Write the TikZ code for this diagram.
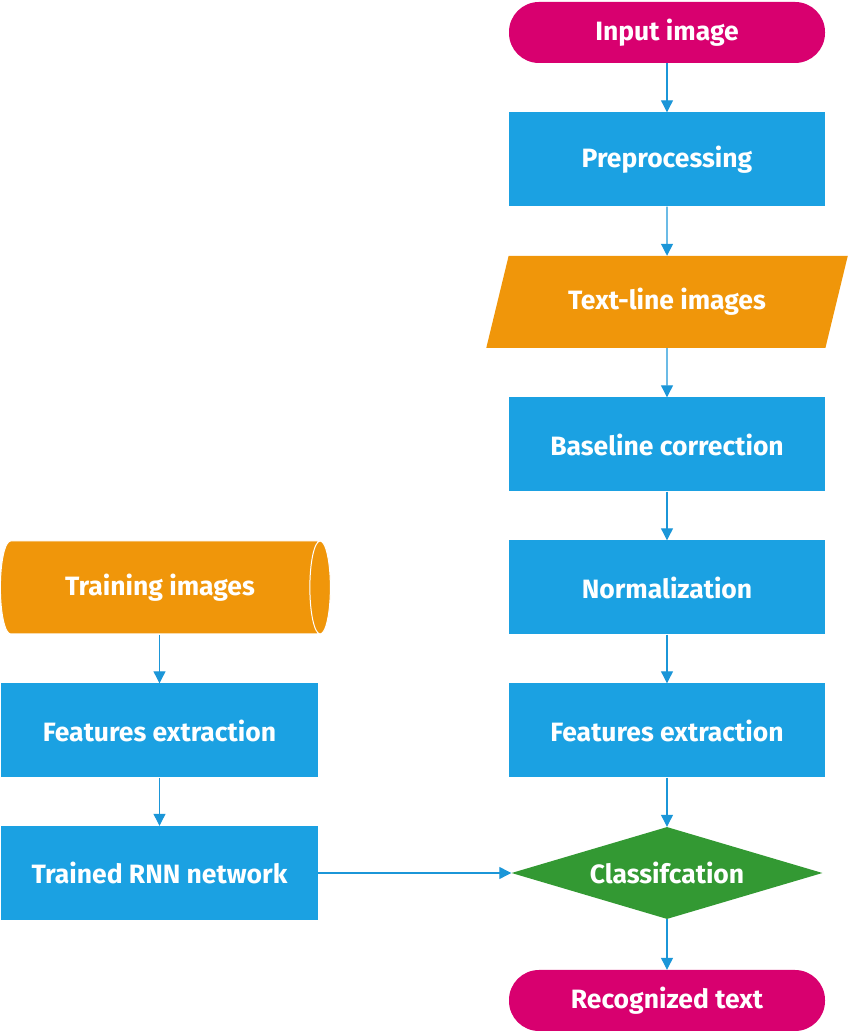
\documentclass[tikz,border=0pt]{standalone}
\usepackage{fontspec}
\setmainfont{Fira Sans}
\usetikzlibrary{shapes.geometric,arrows.meta}
\definecolor{fcpink}{HTML}{D8006F}
\definecolor{fcblue}{HTML}{1BA1E2}
\definecolor{fcorange}{HTML}{F0960A}
\definecolor{fcgreen}{HTML}{339933}
\definecolor{fcline}{HTML}{1B96D8}
\tikzset{
  lbl/.style={text=white,font=\bfseries\fontsize{26.5}{30}\selectfont,inner sep=0pt},
  proc/.style={lbl,rectangle,fill=fcblue,minimum width=316pt,minimum height=94pt},
  term/.style={lbl,rectangle,rounded corners=30pt,fill=fcpink,minimum width=316pt,minimum height=61pt},
  data/.style={lbl,trapezium,trapezium left angle=63,trapezium right angle=117,
    trapezium stretches=true,fill=fcorange,minimum width=362pt,minimum height=92pt},
  store/.style={lbl,cylinder,shape aspect=0.75,draw=white,line width=1pt,fill=fcorange,
    minimum width=93pt,minimum height=330pt},
  decide/.style={lbl,diamond,aspect=3.4,fill=fcgreen,minimum width=311pt,minimum height=92pt},
  flow/.style={fcline,line width=1.2pt,-{Triangle[width=12pt,length=12pt]}}
}
\begin{document}
\begin{tikzpicture}[x=10pt,y=10pt]
  \useasboundingbox (0,0) rectangle (85,103.3);
  % right column
  \node (in) at (66.7,100.05) [term] {Input image};
  \node (pre) at (66.7,87.35) [proc] {Preprocessing};
  \node (tl) at (66.7,73.1) [data] {Text-line images};
  \node (base) at (66.7,58.85) [proc] {Baseline correction};
  \node (norm) at (66.7,44.55) [proc] {Normalization};
  \node (feat) at (66.7,30.25) [proc] {Features extraction};
  \node (cls) at (66.7,16.0) [decide] {Classifcation};
  \node (out) at (66.7,3.25) [term] {Recognized text};
  % left column
  \node (train) at (16.0,44.55) [store] {Training images};
  \node (featl) at (15.95,30.25) [proc] {Features extraction};
  \node (rnn) at (15.95,16.0) [proc] {Trained RNN network};
  % arrows
  \draw[flow] (in) -- (pre);
  \draw[flow] (pre) -- (tl);
  \draw[flow] (tl) -- (base);
  \draw[flow] (base) -- (norm);
  \draw[flow] (norm) -- (feat);
  \draw[flow] (feat) -- (cls);
  \draw[flow] (cls) -- (out);
  \draw[flow] (train.south -| featl) -- (featl);
  \draw[flow] (featl) -- (rnn);
  \draw[flow] (rnn) -- (cls);
\end{tikzpicture}
\end{document}
